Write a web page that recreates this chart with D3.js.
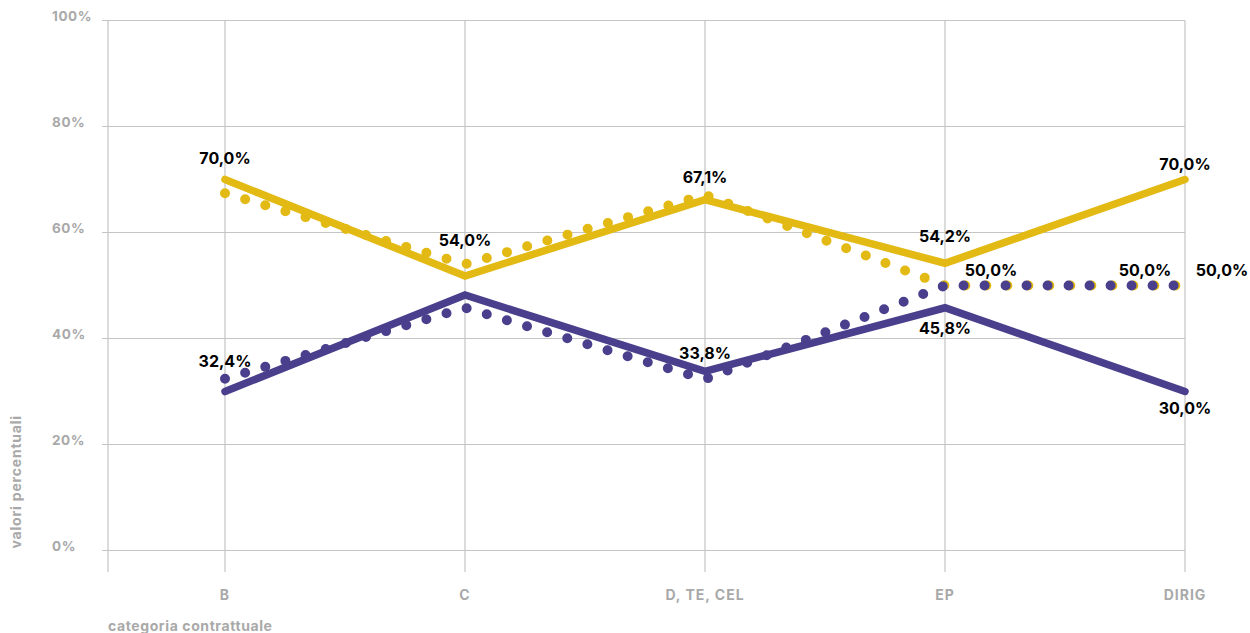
<!DOCTYPE html>
<html lang="it">
<head>
<meta charset="utf-8">
<script src="https://cdn.jsdelivr.net/npm/d3@7"></script>
<style>
  html, body { margin: 0; padding: 0; background: #ffffff; }
  svg { display: block; font-family: Inter, "Noto Sans", sans-serif; }
</style>
</head>
<body>
<svg id="chart" width="1250" height="633"></svg>
<script>
// Categorie contrattuali sull'asse x
const categories = ["B", "C", "D, TE, CEL", "EP", "DIRIG"];

// Serie a linea continua (valori percentuali)
const yellowSolid = [70.0, 51.8, 66.2, 54.2, 70.0];
const purpleSolid = [30.0, 48.2, 33.8, 45.8, 30.0];

// Serie a linea punteggiata (valori percentuali)
const yellowDotted = [67.4, 54.0, 67.1, 50.0, 50.0];
const purpleDotted = [32.4, 45.8, 32.3, 50.0, 50.0];

// Tacche dell'asse y
const yTicks = [0, 20, 40, 60, 80, 100];

// Etichette di valore: serie e categoria annotate
const labelSeries = ["yellowSolid", "purpleDotted", "yellowDotted", "yellowDotted", "purpleSolid",
                     "yellowSolid", "purpleSolid", "purpleDotted", "yellowSolid", "purpleSolid",
                     "purpleDotted", "yellowDotted"];
const labelCategories = ["B", "B", "C", "D, TE, CEL", "D, TE, CEL",
                         "EP", "EP", "EP", "DIRIG", "DIRIG",
                         "DIRIG", "DIRIG"];

const YELLOW = "#E3B914";
const PURPLE = "#4A3F8C";
const GRID = "#c4c4c4";
const AXIS_TEXT = "#a9a9a9";

const series = { yellowSolid, purpleSolid, yellowDotted, purpleDotted };

const svg = d3.select("#chart");

const axisLeftX = 108;
const x = d3.scalePoint().domain(categories).range([225, 1185]);
const y = d3.scaleLinear().domain([0, 100]).range([550.5, 20.5]);
const plotBottom = 572;

// Griglia orizzontale
svg.append("g")
  .selectAll("line")
  .data(yTicks)
  .join("line")
  .attr("x1", axisLeftX - 6)
  .attr("x2", x(categories[categories.length - 1]))
  .attr("y1", d => y(d))
  .attr("y2", d => y(d))
  .attr("stroke", GRID)
  .attr("stroke-width", 1.2);

// Asse verticale sinistro e griglia verticale
svg.append("line")
  .attr("x1", axisLeftX).attr("x2", axisLeftX)
  .attr("y1", y(100)).attr("y2", plotBottom)
  .attr("stroke", GRID).attr("stroke-width", 1.2);

svg.append("g")
  .selectAll("line")
  .data(categories)
  .join("line")
  .attr("x1", d => x(d)).attr("x2", d => x(d))
  .attr("y1", y(100)).attr("y2", plotBottom)
  .attr("stroke", GRID).attr("stroke-width", 1.2);

// Etichette asse y
svg.append("g")
  .selectAll("text")
  .data(yTicks)
  .join("text")
  .attr("x", 52)
  .attr("y", d => y(d) + 0.8)
  .attr("fill", AXIS_TEXT)
  .attr("font-size", 13.5)
  .attr("font-weight", 700)
  .attr("letter-spacing", 0.6)
  .text(d => d + "%");

// Etichette asse x
svg.append("g")
  .selectAll("text")
  .data(categories)
  .join("text")
  .attr("x", d => x(d))
  .attr("y", 600)
  .attr("text-anchor", "middle")
  .attr("fill", AXIS_TEXT)
  .attr("font-size", 14)
  .attr("font-weight", 700)
  .attr("letter-spacing", 1.0)
  .text(d => d);

// Titoli degli assi
svg.append("text")
  .attr("x", axisLeftX)
  .attr("y", 631)
  .attr("fill", AXIS_TEXT)
  .attr("font-size", 14)
  .attr("font-weight", 700)
  .attr("letter-spacing", 0.6)
  .text("categoria contrattuale");

svg.append("text")
  .attr("transform", `translate(21, ${y(0) - 2}) rotate(-90)`)
  .attr("text-anchor", "start")
  .attr("fill", AXIS_TEXT)
  .attr("font-size", 14)
  .attr("font-weight", 700)
  .attr("letter-spacing", 0.8)
  .text("valori percentuali");

// Linee
const line = d3.line()
  .x((d, i) => x(categories[i]))
  .y(d => y(d));

function drawSolid(values, color) {
  svg.append("path")
    .datum(values)
    .attr("d", line)
    .attr("fill", "none")
    .attr("stroke", color)
    .attr("stroke-width", 7.5)
    .attr("stroke-linecap", "round")
    .attr("stroke-linejoin", "miter");
}

function drawDotted(values, color) {
  svg.append("path")
    .datum(values)
    .attr("d", line)
    .attr("fill", "none")
    .attr("stroke", color)
    .attr("stroke-width", 10)
    .attr("stroke-linecap", "round")
    .attr("stroke-dasharray", "0 21");
}

drawSolid(yellowSolid, YELLOW);
drawSolid(purpleSolid, PURPLE);
drawDotted(yellowDotted, YELLOW);
drawDotted(purpleDotted, PURPLE);

// Posizionamento delle etichette di valore rispetto al punto
const labelPlacement = [
  { dx: 0, dy: -16 }, { dx: 0, dy: -12 }, { dx: 0, dy: -18 }, { dx: 0, dy: -11.5 },
  { dx: 0, dy: -12.5 }, { dx: 0, dy: -21 }, { dx: 0, dy: 26 }, { dx: 46, dy: -9.5 },
  { dx: 0, dy: -9.5 }, { dx: 0, dy: 22 }, { dx: -40, dy: -9.5 }, { dx: 37, dy: -9.5 }
];

const fmt = v => d3.format(".1f")(v).replace(".", ",") + "%";

const labels = labelSeries.map((s, i) => {
  const cat = labelCategories[i];
  const value = series[s][categories.indexOf(cat)];
  return { cat, value, ...labelPlacement[i] };
});

svg.append("g")
  .selectAll("text")
  .data(labels)
  .join("text")
  .attr("x", d => x(d.cat) + d.dx)
  .attr("y", d => y(d.value) + d.dy)
  .attr("text-anchor", "middle")
  .attr("fill", "#000000")
  .attr("font-size", 16)
  .attr("font-weight", 700)
  .text(d => fmt(d.value));
</script>
</body>
</html>
